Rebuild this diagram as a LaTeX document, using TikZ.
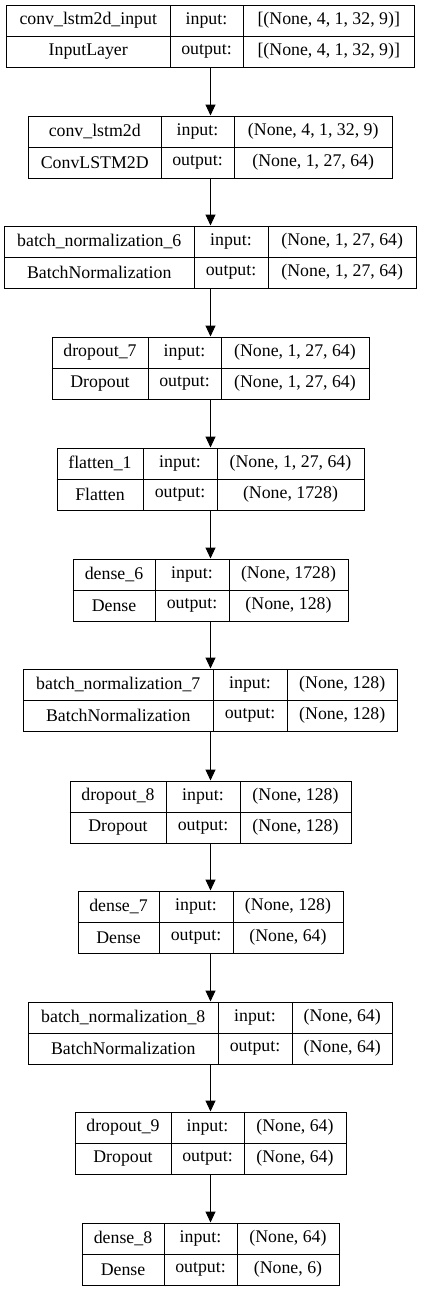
\documentclass[tikz,border=0pt]{standalone}
\usepackage{fontspec}
\setmainfont{LiberationSerif-Regular.ttf}
\usetikzlibrary{arrows.meta}

\tikzset{
  layerbox/.style={rectangle, draw, line width=1pt, inner sep=0pt, minimum height=62pt},
  cell/.style={inner sep=0pt, font=\fontsize{17.8}{20}\selectfont},
  flow/.style={-{Triangle[length=11pt, width=10pt]}, line width=1pt},
}

% #1 name, #2 top, #3 half width, #4 #5 column lines, #6 layer, #7 class, #8 input, #9 output
\newcommand{\layer}[9]{%
  \node[layerbox, minimum width={2*#3pt}] (#1) at (210.5,{#2+31}) {};
  \draw[line width=1pt] (#1.west) -- (#1.east);
  \draw[line width=1pt] (#4,#2) -- (#4,{#2+62});
  \draw[line width=1pt] (#5,#2) -- (#5,{#2+62});
  \node[cell] (#1-name) at ({(210.5-#3+#4)/2},{#2+15.5}) {#6};
  \node[cell] (#1-class) at ({(210.5-#3+#4)/2},{#2+46.5}) {#7};
  \node[cell] (#1-inl) at ({(#4+#5)/2},{#2+15.5}) {input:};
  \node[cell] (#1-outl) at ({(#4+#5)/2},{#2+46.5}) {output:};
  \node[cell] (#1-in) at ({(#5+210.5+#3)/2},{#2+15.5}) {#8};
  \node[cell] (#1-out) at ({(#5+210.5+#3)/2},{#2+46.5}) {#9};
}

\begin{document}
\begin{tikzpicture}[x=1pt, y=-1pt]
    \useasboundingbox (0,0) rectangle (421,1291);
    \layer{input}{5}{204}{170}{243}{conv\_lstm2d\_input}{InputLayer}{[(None, 4, 1, 32, 9)]}{[(None, 4, 1, 32, 9)]}
    \layer{convlstm}{116}{182}{161}{234}{conv\_lstm2d}{ConvLSTM2D}{(None, 4, 1, 32, 9)}{(None, 1, 27, 64)}
    \layer{bn6}{226}{206}{194}{268}{batch\_normalization\_6}{BatchNormalization}{(None, 1, 27, 64)}{(None, 1, 27, 64)}
    \layer{drop7}{337}{158.5}{148}{221}{dropout\_7}{Dropout}{(None, 1, 27, 64)}{(None, 1, 27, 64)}
    \layer{flat1}{448}{153.5}{143}{217}{flatten\_1}{Flatten}{(None, 1, 27, 64)}{(None, 1728)}
    \layer{dense6}{559}{137.5}{155}{229}{dense\_6}{Dense}{(None, 1728)}{(None, 128)}
    \layer{bn7}{669}{187}{213}{287}{batch\_normalization\_7}{BatchNormalization}{(None, 128)}{(None, 128)}
    \layer{drop8}{781}{140.5}{166}{240}{dropout\_8}{Dropout}{(None, 128)}{(None, 128)}
    \layer{dense7}{891}{132.5}{159}{233}{dense\_7}{Dense}{(None, 128)}{(None, 64)}
    \layer{bn8}{1002}{182}{218}{292}{batch\_normalization\_8}{BatchNormalization}{(None, 64)}{(None, 64)}
    \layer{drop9}{1112}{135.5}{171}{244}{dropout\_9}{Dropout}{(None, 64)}{(None, 64)}
    \layer{dense8}{1223}{128.5}{164}{237}{dense\_8}{Dense}{(None, 64)}{(None, 6)}
    \draw[flow] (input) -- (convlstm);
    \draw[flow] (convlstm) -- (bn6);
    \draw[flow] (bn6) -- (drop7);
    \draw[flow] (drop7) -- (flat1);
    \draw[flow] (flat1) -- (dense6);
    \draw[flow] (dense6) -- (bn7);
    \draw[flow] (bn7) -- (drop8);
    \draw[flow] (drop8) -- (dense7);
    \draw[flow] (dense7) -- (bn8);
    \draw[flow] (bn8) -- (drop9);
    \draw[flow] (drop9) -- (dense8);
\end{tikzpicture}
\end{document}
